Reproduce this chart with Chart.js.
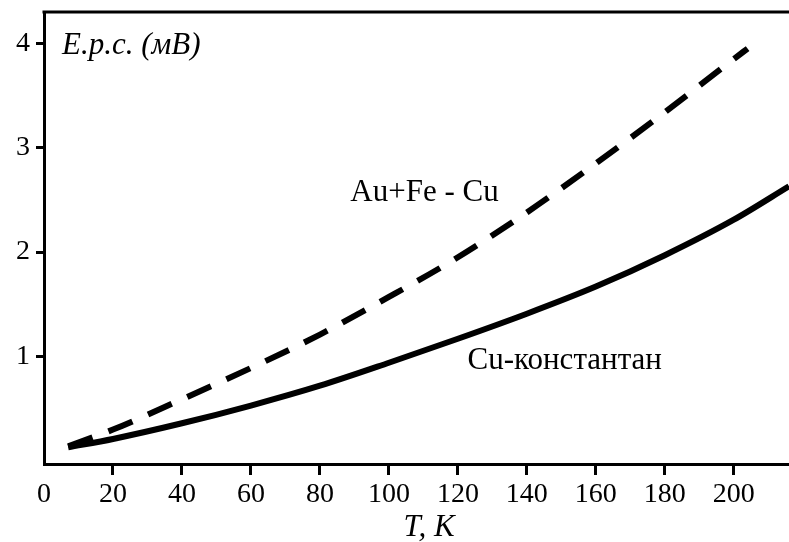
<!DOCTYPE html>
<html>
<head>
<meta charset="utf-8">
<script src="https://cdn.jsdelivr.net/npm/chart.js@4.4.0/dist/chart.umd.min.js"></script>
<style>
  html, body { margin: 0; padding: 0; background: #fff; }
  canvas { display: block; }
</style>
</head>
<body>
<canvas id="grafico" width="789" height="542"></canvas>
<script>
// datos (T en K, E.p.c. en mV)
const tempAuFe = [7, 20, 40, 60, 80, 100, 120, 140, 160, 180, 200, 204];
const emfAuFe = [0.14, 0.30, 0.59, 0.89, 1.21, 1.57, 1.95, 2.38, 2.85, 3.34, 3.85, 3.95];

const tempCuConst = [7, 20, 40, 60, 80, 100, 120, 140, 160, 180, 200, 216];
const emfCuConst = [0.13, 0.21, 0.36, 0.53, 0.72, 0.94, 1.17, 1.41, 1.67, 1.97, 2.31, 2.63];

const ticksX = [0, 20, 40, 60, 80, 100, 120, 140, 160, 180, 200];
const ticksY = [1, 2, 3, 4];

const fuente = 'Liberation Serif, Times New Roman, serif';

function puntos(xs, ys) {
    return xs.map((x, i) => ({ x: x, y: ys[i] }));
}

// textos sobre el grafico
const textosPlugin = {
    id: 'textos',
    afterDraw(chart) {
        const { ctx, chartArea, scales } = chart;
        ctx.save();
        // borde superior
        ctx.strokeStyle = '#000';
        ctx.lineWidth = 3;
        ctx.beginPath();
        ctx.moveTo(chartArea.left - 1.5, chartArea.top);
        ctx.lineTo(chartArea.right, chartArea.top);
        ctx.stroke();

        ctx.fillStyle = '#000';
        ctx.textBaseline = 'middle';
        ctx.textAlign = 'left';

        ctx.font = 'italic 31px ' + fuente;
        ctx.fillText('E.p.c. (мВ)', chartArea.left + 18, 46);

        ctx.font = '31px ' + fuente;
        ctx.fillText('Au+Fe - Cu', scales.x.getPixelForValue(88.8), scales.y.getPixelForValue(2.57));
        ctx.fillText('Cu-константан', scales.x.getPixelForValue(122.8), scales.y.getPixelForValue(0.96));

        ctx.font = 'italic 31px ' + fuente;
        ctx.textAlign = 'center';
        ctx.fillText('T, K', 429, 528);
        ctx.restore();
    }
};

new Chart(document.getElementById('grafico').getContext('2d'), {
    type: 'line',
    data: {
        datasets: [{
            label: 'Au+Fe - Cu',
            data: puntos(tempAuFe, emfAuFe),
            borderColor: '#000',
            borderWidth: 6,
            borderDash: [26, 17],
            borderCapStyle: 'butt',
            pointRadius: 0,
            cubicInterpolationMode: 'monotone',
            fill: false
        }, {
            label: 'Cu-константан',
            data: puntos(tempCuConst, emfCuConst),
            borderColor: '#000',
            borderWidth: 6,
            pointRadius: 0,
            cubicInterpolationMode: 'monotone',
            fill: false
        }]
    },
    options: {
        responsive: false,
        animation: false,
        devicePixelRatio: 1,
        layout: { padding: { top: 12, right: 0, left: 0, bottom: 0 } },
        plugins: {
            legend: { display: false },
            tooltip: { enabled: false }
        },
        scales: {
            x: {
                type: 'linear',
                min: 0,
                max: 216,
                afterBuildTicks: s => { s.ticks = ticksX.map(v => ({ value: v })); },
                afterFit: s => { s.height = 78; s.paddingLeft = 0; s.paddingRight = 0; },
                grid: {
                    drawOnChartArea: false,
                    drawTicks: true,
                    tickLength: 11,
                    tickWidth: 3,
                    tickColor: c => (c.tick && c.tick.value === 0) ? 'rgba(0,0,0,0)' : '#000'
                },
                border: { display: true, color: '#000', width: 3 },
                ticks: {
                    color: '#000',
                    font: { family: fuente, size: 28 },
                    padding: 3,
                    maxRotation: 0,
                    autoSkip: false
                }
            },
            y: {
                type: 'linear',
                min: -0.03,
                max: 4.3,
                afterBuildTicks: s => { s.ticks = ticksY.map(v => ({ value: v })); },
                afterFit: s => { s.width = 44; s.paddingTop = 0; s.paddingBottom = 0; },
                grid: {
                    drawOnChartArea: false,
                    drawTicks: true,
                    tickLength: 8,
                    tickWidth: 3,
                    tickColor: '#000'
                },
                border: { display: true, color: '#000', width: 3 },
                ticks: {
                    color: '#000',
                    font: { family: fuente, size: 28 },
                    padding: 6
                }
            }
        }
    },
    plugins: [textosPlugin]
});
</script>
</body>
</html>
